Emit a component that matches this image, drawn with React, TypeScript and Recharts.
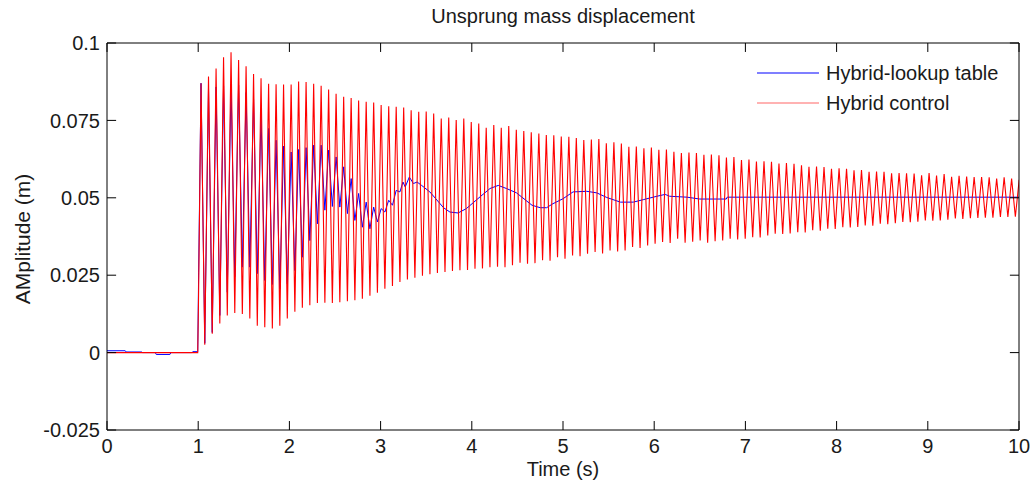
import { LineChart, Line, XAxis, YAxis, Legend, ReferenceLine } from 'recharts';

const FONT = '"Liberation Sans", Arial, Helvetica, sans-serif';
const TEXT = '#1a1a1a';

const chartTitle = 'Unsprung mass displacement';
const xLabel = 'Time (s)';
const yLabel = 'AMplitude (m)';

const xTicks = [0, 1, 2, 3, 4, 5, 6, 7, 8, 9, 10];
const yTicks = [-0.025, 0, 0.025, 0.05, 0.075, 0.1];
const xMin = 0;
const xMax = 10;
const yMin = -0.025;
const yMax = 0.1;

const seriesNames = ['Hybrid-lookup table', 'Hybrid control'];
const seriesColors = ['#0000ff', '#ff0000'];

// Hybrid control (red): flat before the step, then fast oscillation
const redStartT = [0, 0.995, 1.003];
const redStartV = [0, 0, 0.016];

const redPeakT = [
  1.031, 1.113, 1.196, 1.278, 1.360, 1.443, 1.525, 1.607, 1.689, 1.772,
  1.854, 1.936, 2.019, 2.101, 2.183, 2.266, 2.348, 2.430, 2.512, 2.595,
  2.677, 2.759, 2.842, 2.924, 3.006, 3.089, 3.171, 3.253, 3.335, 3.418,
  3.500, 3.582, 3.665, 3.747, 3.829, 3.912, 3.994, 4.076, 4.158, 4.241,
  4.323, 4.405, 4.488, 4.570, 4.652, 4.735, 4.817, 4.899, 4.981, 5.064,
  5.146, 5.228, 5.311, 5.393, 5.475, 5.558, 5.640, 5.722, 5.804, 5.887,
  5.969, 6.051, 6.134, 6.216, 6.298, 6.381, 6.463, 6.545, 6.627, 6.710,
  6.792, 6.874, 6.957, 7.039, 7.121, 7.204, 7.286, 7.368, 7.450, 7.533,
  7.615, 7.697, 7.780, 7.862, 7.944, 8.027, 8.109, 8.191, 8.273, 8.356,
  8.438, 8.520, 8.603, 8.685, 8.767, 8.850, 8.932, 9.014, 9.096, 9.179,
  9.261, 9.343, 9.426, 9.508, 9.590, 9.673, 9.755, 9.837, 9.919, 10.002,
];
const redPeakV = [
  0.0870, 0.0892, 0.0918, 0.0954, 0.0970, 0.0945, 0.0925, 0.0900, 0.0886, 0.0868,
  0.0867, 0.0866, 0.0866, 0.0876, 0.0874, 0.0868, 0.0862, 0.0850, 0.0836, 0.0826,
  0.0822, 0.0814, 0.0810, 0.0808, 0.0800, 0.0796, 0.0794, 0.0792, 0.0783, 0.0778,
  0.0779, 0.0772, 0.0756, 0.0759, 0.0751, 0.0756, 0.0745, 0.0740, 0.0726, 0.0735,
  0.0726, 0.0732, 0.0720, 0.0716, 0.0712, 0.0708, 0.0703, 0.0702, 0.0698, 0.0697,
  0.0693, 0.0687, 0.0688, 0.0690, 0.0676, 0.0679, 0.0675, 0.0665, 0.0666, 0.0660,
  0.0662, 0.0655, 0.0656, 0.0649, 0.0645, 0.0646, 0.0645, 0.0639, 0.0640, 0.0637,
  0.0630, 0.0632, 0.0622, 0.0624, 0.0617, 0.0618, 0.0616, 0.0611, 0.0612, 0.0610,
  0.0605, 0.0600, 0.0601, 0.0599, 0.0594, 0.0595, 0.0594, 0.0589, 0.0590, 0.0584,
  0.0585, 0.0584, 0.0579, 0.0580, 0.0579, 0.0578, 0.0573, 0.0580, 0.0572, 0.0577,
  0.0568, 0.0571, 0.0569, 0.0567, 0.0567, 0.0566, 0.0562, 0.0566, 0.0562, 0.0558,
];
const redTroughT = [
  1.072, 1.154, 1.237, 1.319, 1.401, 1.484, 1.566, 1.648, 1.730, 1.813,
  1.895, 1.977, 2.060, 2.142, 2.224, 2.307, 2.389, 2.471, 2.553, 2.636,
  2.718, 2.800, 2.883, 2.965, 3.047, 3.130, 3.212, 3.294, 3.376, 3.459,
  3.541, 3.623, 3.706, 3.788, 3.870, 3.953, 4.035, 4.117, 4.199, 4.282,
  4.364, 4.446, 4.529, 4.611, 4.693, 4.776, 4.858, 4.940, 5.022, 5.105,
  5.187, 5.269, 5.352, 5.434, 5.516, 5.599, 5.681, 5.763, 5.845, 5.928,
  6.010, 6.092, 6.175, 6.257, 6.339, 6.422, 6.504, 6.586, 6.668, 6.751,
  6.833, 6.915, 6.998, 7.080, 7.162, 7.245, 7.327, 7.409, 7.491, 7.574,
  7.656, 7.738, 7.821, 7.903, 7.985, 8.068, 8.150, 8.232, 8.314, 8.397,
  8.479, 8.561, 8.644, 8.726, 8.808, 8.891, 8.973, 9.055, 9.137, 9.220,
  9.302, 9.384, 9.467, 9.549, 9.631, 9.714, 9.796, 9.878, 9.960,
];
const redTroughV = [
  0.0025, 0.0061, 0.0094, 0.0120, 0.0128, 0.0125, 0.0110, 0.0087, 0.0082, 0.0078,
  0.0087, 0.0110, 0.0132, 0.0145, 0.0153, 0.0160, 0.0161, 0.0160, 0.0163, 0.0166,
  0.0169, 0.0174, 0.0184, 0.0193, 0.0206, 0.0215, 0.0228, 0.0236, 0.0242, 0.0248,
  0.0253, 0.0257, 0.0260, 0.0264, 0.0266, 0.0267, 0.0271, 0.0272, 0.0276, 0.0277,
  0.0276, 0.0282, 0.0290, 0.0287, 0.0289, 0.0298, 0.0297, 0.0308, 0.0303, 0.0314,
  0.0311, 0.0319, 0.0325, 0.0320, 0.0330, 0.0327, 0.0330, 0.0341, 0.0338, 0.0346,
  0.0352, 0.0357, 0.0354, 0.0368, 0.0355, 0.0358, 0.0362, 0.0355, 0.0360, 0.0362,
  0.0368, 0.0365, 0.0368, 0.0373, 0.0372, 0.0378, 0.0384, 0.0383, 0.0385, 0.0389,
  0.0388, 0.0395, 0.0394, 0.0400, 0.0399, 0.0405, 0.0404, 0.0406, 0.0411, 0.0410,
  0.0416, 0.0415, 0.0418, 0.0422, 0.0421, 0.0423, 0.0427, 0.0426, 0.0427, 0.0429,
  0.0433, 0.0432, 0.0434, 0.0435, 0.0436, 0.0436, 0.0438, 0.0438, 0.0439,
];

// Hybrid-lookup table (blue): small offsets, oscillation in phase with red, then slow settling
const blueStartT = [0, 0.20, 0.21, 0.38, 0.39, 0.53, 0.54, 0.69, 0.70, 0.93, 0.94, 0.995, 1.005];
const blueStartV = [0.0006, 0.0006, 0.0002, 0.0002, 0, 0, -0.0006, -0.0006, 0, 0, 0.0003, 0.0003, 0.026];
const bluePeakV = [
  0.0870, 0.0853, 0.0858, 0.0862, 0.0866, 0.0864, 0.0840, 0.0818, 0.0770, 0.0724,
  0.0686, 0.0667, 0.0648, 0.0656, 0.0662, 0.0670, 0.0670, 0.0654, 0.0632, 0.0600,
  0.0562, 0.0514, 0.0486, 0.0470, 0.0465, 0.0492, 0.0524,
];
const blueTroughV = [
  0.0030, 0.0065, 0.0120, 0.0195, 0.0245, 0.0276, 0.0276, 0.0255, 0.0233, 0.0220,
  0.0206, 0.0222, 0.0265, 0.0308, 0.0362, 0.0416, 0.0460, 0.0472, 0.0470, 0.0449,
  0.0427, 0.0405, 0.0400, 0.0422, 0.0454, 0.0476, 0.0519,
];
const blueTailT = [
  3.245, 3.27, 3.315, 3.36, 3.40, 3.45, 3.54, 3.69, 3.76, 3.85,
  3.94, 4.09, 4.20, 4.29, 4.38, 4.49, 4.66, 4.75, 4.82, 4.89,
  5.00, 5.11, 5.26, 5.37, 5.48, 5.63, 5.77, 5.88, 6.03, 6.12,
  6.17, 6.36, 6.50, 6.79, 6.80, 10,
];
const blueTailV = [
  0.0551, 0.0535, 0.0567, 0.0546, 0.0551, 0.0540, 0.0519, 0.0468, 0.0454, 0.0451,
  0.0465, 0.0503, 0.0530, 0.0540, 0.0530, 0.0516, 0.0476, 0.0468, 0.0468, 0.0481,
  0.0497, 0.0519, 0.0521, 0.0516, 0.0501, 0.0486, 0.0486, 0.0494, 0.0505, 0.0511,
  0.0505, 0.0502, 0.0496, 0.0496, 0.0502, 0.0502,
];

const redData = [
  ...redStartT.map((t, i) => ({ t, v: redStartV[i] })),
  ...redPeakT.flatMap((t, i) =>
    i < redTroughT.length
      ? [{ t, v: redPeakV[i] }, { t: redTroughT[i], v: redTroughV[i] }]
      : [{ t, v: redPeakV[i] }]
  ),
];

const blueData = [
  ...blueStartT.map((t, i) => ({ t, v: blueStartV[i] })),
  ...bluePeakV.flatMap((v, i) => [
    { t: redPeakT[i], v },
    { t: redTroughT[i], v: blueTroughV[i] },
  ]),
  ...blueTailT.map((t, i) => ({ t, v: blueTailV[i] })),
];

// inward tick length, in axis units (about 9px on screen)
const xTickLen = 0.1;
const yTickLen = 0.0029;

const tickStyle = { fill: TEXT, fontSize: 20, fontFamily: FONT };
const axisStroke = { stroke: '#000', strokeWidth: 1 };

function LegendBox() {
  return (
    <div style={{ fontFamily: FONT, fontSize: 20, color: TEXT }}>
      {seriesNames.map((name, i) => (
        <div key={name} style={{ display: 'flex', alignItems: 'center', height: 30 }}>
          <svg width={62} height={4} style={{ marginRight: 7 }}>
            <line x1={0} y1={2} x2={62} y2={2} stroke={seriesColors[i]} strokeWidth={1.2} strokeOpacity={i === 1 ? 0.6 : 1} />
          </svg>
          <span style={{ whiteSpace: 'nowrap' }}>{name}</span>
        </div>
      ))}
    </div>
  );
}

export default function App() {
  return (
    <div style={{ position: 'absolute', left: 0, top: 0, width: 1036, height: 489, background: '#fff' }}>
      <LineChart width={1036} height={489} margin={{ top: 43, right: 17, bottom: 0, left: 0 }}>
        <XAxis
          type="number"
          dataKey="t"
          domain={[xMin, xMax]}
          ticks={xTicks}
          allowDataOverflow
          height={59}
          tickSize={0}
          tickMargin={9}
          axisLine={axisStroke}
          tickLine={false}
          tick={tickStyle}
          label={{
            content: () => (
              <text x={563} y={476} textAnchor="middle" fill={TEXT} fontSize={20} fontFamily={FONT}>
                {xLabel}
              </text>
            ),
          }}
        />
        <YAxis
          type="number"
          domain={[yMin, yMax]}
          ticks={yTicks}
          allowDataOverflow
          width={107}
          tickSize={0}
          tickMargin={7}
          axisLine={axisStroke}
          tickLine={false}
          tick={tickStyle}
          label={{
            content: () => (
              <g>
                <text
                  x={22}
                  y={239}
                  transform="rotate(-90 22 239)"
                  textAnchor="middle"
                  dominantBaseline="central"
                  fill={TEXT}
                  fontSize={21}
                  fontFamily={FONT}
                >
                  {yLabel}
                </text>
                <text x={563} y={23} textAnchor="middle" fill={TEXT} fontSize={20} fontFamily={FONT}>
                  {chartTitle}
                </text>
              </g>
            ),
          }}
        />
        <Line
          data={blueData}
          dataKey="v"
          name={seriesNames[0]}
          type="linear"
          stroke={seriesColors[0]}
          strokeWidth={1}
          dot={false}
          isAnimationActive={false}
        />
        <Line
          data={redData}
          dataKey="v"
          name={seriesNames[1]}
          type="linear"
          stroke={seriesColors[1]}
          strokeWidth={1.1}
          dot={false}
          isAnimationActive={false}
        />
        <ReferenceLine y={yMax} stroke="#000" strokeWidth={1} />
        <ReferenceLine x={xMax} stroke="#000" strokeWidth={1} />
        {xTicks.map((t) => (
          <ReferenceLine
            key={`xb${t}`}
            segment={[{ x: t, y: yMin }, { x: t, y: yMin + yTickLen }]}
            stroke="#000"
          />
        ))}
        {xTicks.map((t) => (
          <ReferenceLine
            key={`xt${t}`}
            segment={[{ x: t, y: yMax }, { x: t, y: yMax - yTickLen }]}
            stroke="#000"
          />
        ))}
        {yTicks.map((v) => (
          <ReferenceLine
            key={`yl${v}`}
            segment={[{ x: xMin, y: v }, { x: xMin + xTickLen, y: v }]}
            stroke="#000"
          />
        ))}
        {yTicks.map((v) => (
          <ReferenceLine
            key={`yr${v}`}
            segment={[{ x: xMax, y: v }, { x: xMax - xTickLen, y: v }]}
            stroke="#000"
          />
        ))}
        <Legend
          layout="horizontal"
          verticalAlign="middle"
          align="center"
          content={() => <LegendBox />}
          wrapperStyle={{ left: 757, top: 58, width: 260, height: 60 }}
        />
      </LineChart>
    </div>
  );
}
